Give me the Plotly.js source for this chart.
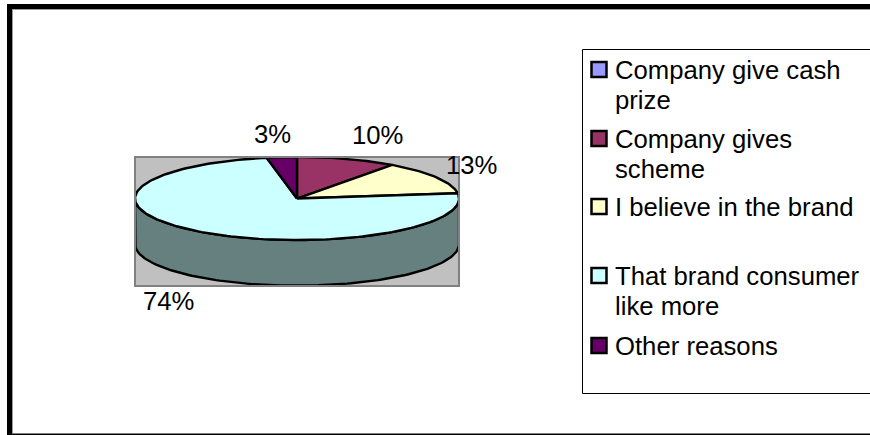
<!DOCTYPE html>
<html>
<head>
<meta charset="utf-8">
<script src="https://cdn.plot.ly/plotly-3.0.1.min.js"></script>
<style>html,body{margin:0;padding:0;background:#fff}#chart{width:870px;height:435px}</style>
</head>
<body>
<div id="chart"></div>
<script>
// Survey answers, percent of respondents
const categories = ["Company give cash prize", "Company gives scheme", "I believe in the brand", "That brand consumer like more", "Other reasons"];
const shares = [0, 10, 13, 74, 3];
const sliceColors = ["#9999FF", "#993366", "#FFFFCC", "#CCFFFF", "#660066"];
const wallColors = ["#4D4D80", "#4D1A33", "#808066", "#668080", "#330033"];
const legendLines = [["Company give cash", "prize"], ["Company gives", "scheme"], ["I believe in the brand"], ["That brand consumer", "like more"], ["Other reasons"]];
const legendRowTops = [61, 130, 198, 267, 337];

const W = 870, H = 435;
const plot = {left: 136, right: 458, top: 158, bottom: 285};
const FONT = "'Liberation Sans', Arial, sans-serif";
const TEXT = "#000000";
const EDGE = 2.4;

// Axis units: rim half-widths are 1 in both directions, the wall drops below the rim.
const wallDepth = 1.1;
const xRange = [-0.9938, 0.9938];
const yRange = [-2.084, 0.976];

const rim = deg => [Math.sin(deg * Math.PI / 180), Math.cos(deg * Math.PI / 180)];

function arc(from, to) {
  const pts = [];
  const n = Math.max(2, Math.ceil(Math.abs(to - from) / 1.5));
  for (let i = 0; i <= n; i++) pts.push(rim(from + (to - from) * i / n));
  return pts;
}

function polygon(pts, fill, name) {
  return {
    type: "scatter", mode: "lines", name: name,
    x: pts.map(p => p[0]), y: pts.map(p => p[1]),
    fill: "toself", fillcolor: fill,
    line: {color: "#000", width: EDGE, shape: "linear"},
    cliponaxis: false, hoverinfo: "name", showlegend: false
  };
}

const total = shares.reduce((a, b) => a + b, 0);
const walls = [], tops = [];
let cursor = 0;
shares.forEach((v, i) => {
  const start = cursor, end = cursor + v / total * 360;
  cursor = end;
  if (v === 0) return;
  // Only the part of the rim facing the viewer shows a wall.
  const a = Math.max(start, 90), b = Math.min(end, 270);
  if (b > a) {
    const upper = arc(a, b);
    const lower = upper.slice().reverse().map(p => [p[0], p[1] - wallDepth]);
    walls.push(polygon(upper.concat(lower, [upper[0]]), wallColors[i], categories[i]));
  }
  tops.push(polygon([[0, 0]].concat(arc(start, end), [[0, 0]]), sliceColors[i], categories[i]));
});

// Pixel helpers for items placed around the plot area
const px = x => (x - plot.left) / (plot.right - plot.left);
const py = y => 1 - (y - plot.top) / (plot.bottom - plot.top);
const rect = (x0, y0, x1, y1, fill, line) => ({
  type: "rect", xref: "paper", yref: "paper",
  x0: px(x0), x1: px(x1), y0: py(y0), y1: py(y1),
  fillcolor: fill, line: line || {width: 0}
});
const label = (x, y, text, anchor) => ({
  xref: "paper", yref: "paper", x: px(x), y: py(y), text: text,
  showarrow: false, xanchor: anchor, yanchor: "middle",
  font: {family: FONT, size: 25.7, color: TEXT}, borderpad: 0
});

const shapes = [
  // Chart frame
  rect(7, 4, W, 9, "#000000"),
  rect(7, 4, 12, H, "#000000"),
  rect(12, 9, W, 10, "#9a9a9a"),
  rect(12, 9, 13, 433, "#9a9a9a"),
  rect(7, 433.5, W, H, "#000000"),
  // Legend box
  rect(582.5, 49.5, W + 4, 393.5, "#FFFFFF", {color: "#000000", width: 1})
];
const annotations = [
  label(272, 134, "3%", "center"),
  label(377, 135, "10%", "center"),
  label(471, 165, "13%", "center"),
  label(168, 301, "74%", "center")
];

legendLines.forEach((lines, i) => {
  const top = legendRowTops[i];
  shapes.push(rect(591.5, top + 1, 606.5, top + 16, sliceColors[i], {color: "#000000", width: 2.5}));
  lines.forEach((t, j) => annotations.push(label(614, top + 9 + j * 30, t, "left")));
});

const layout = {
  width: W, height: H,
  margin: {l: plot.left, r: W - plot.right, t: plot.top, b: H - plot.bottom, pad: 0},
  paper_bgcolor: "#FFFFFF",
  plot_bgcolor: "#C0C0C0",
  showlegend: false,
  hovermode: "closest",
  xaxis: {range: xRange, showgrid: false, zeroline: false, showticklabels: false, ticks: "",
          showline: true, mirror: true, linecolor: "#808080", linewidth: 2, fixedrange: true},
  yaxis: {range: yRange, showgrid: false, zeroline: false, showticklabels: false, ticks: "",
          showline: true, mirror: true, linecolor: "#808080", linewidth: 2, fixedrange: true},
  shapes: shapes,
  annotations: annotations
};

Plotly.newPlot("chart", walls.concat(tops), layout, {displayModeBar: false, responsive: false});
</script>
</body>
</html>
